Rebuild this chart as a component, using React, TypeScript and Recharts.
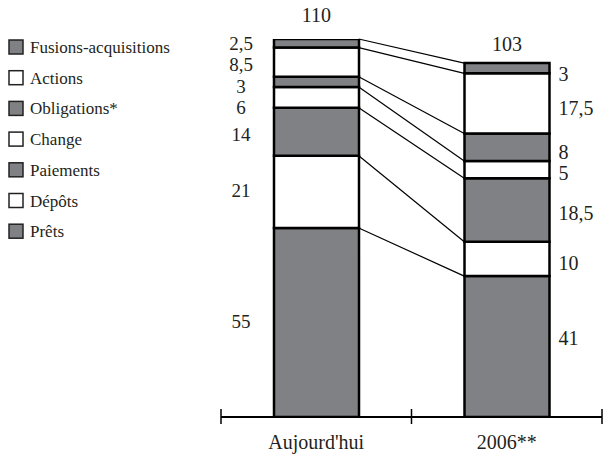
import React from 'react';
import { BarChart, Bar, XAxis, YAxis, ReferenceLine, LabelList } from 'recharts';

// deux colonnes, empilées du bas (Prêts) vers le haut (Fusions-acquisitions)
const CATEGORIES = ["Aujourd'hui", '2006**'];
const POSITIONS = [0.5, 1.5];
const TOTALS = [110, 103];
const TICKS = [0, 0.5, 1, 1.5, 2];

const PRETS = [55, 41];
const DEPOTS = [21, 10];
const PAIEMENTS = [14, 18.5];
const CHANGE = [6, 5];
const OBLIGATIONS = [3, 8];
const ACTIONS = [8.5, 17.5];
const FUSIONS = [2.5, 3];

const GRAY = '#808184';
const WHITE = '#ffffff';
const INK = '#231f20';
const FONT = 'Liberation Serif, DejaVu Serif, serif';

const SERIES = [
  { key: 'prets', name: 'Prêts', values: PRETS, fill: GRAY },
  { key: 'depots', name: 'Dépôts', values: DEPOTS, fill: WHITE },
  { key: 'paiements', name: 'Paiements', values: PAIEMENTS, fill: GRAY },
  { key: 'change', name: 'Change', values: CHANGE, fill: WHITE },
  { key: 'obligations', name: 'Obligations*', values: OBLIGATIONS, fill: GRAY },
  { key: 'actions', name: 'Actions', values: ACTIONS, fill: WHITE },
  { key: 'fusions', name: 'Fusions-acquisitions', values: FUSIONS, fill: GRAY },
];

// petits décalages verticaux des étiquettes (px), [gauche, droite], même ordre que SERIES
const NUDGE = [
  [-2, -9],
  [-2, 4],
  [2, 3],
  [10, 3],
  [4, 5],
  [2, 5],
  [0, 6],
];

const W = 604;
const H = 455;
const MARGIN = { top: 39, right: 2, left: 221, bottom: 8 };
const PLOT_W = W - MARGIN.left - MARGIN.right;
const BAR_SIZE = 85;
// demi-largeur de barre en unités de l'axe x (domaine 0..2)
const HALF = BAR_SIZE / PLOT_W;

const data = CATEGORIES.map((name, i) => {
  const row: any = { name, pos: POSITIONS[i], total: TOTALS[i] };
  SERIES.forEach((s) => (row[s.key] = s.values[i]));
  return row;
});

// cumul en haut de chaque segment, pour les traits de liaison
const tops = SERIES.map((_, k) =>
  POSITIONS.map((_p, i) => SERIES.slice(0, k + 1).reduce((a, s) => a + s.values[i], 0))
);

const fmt = (v: number) => String(v).replace('.', ',');

const makeSegmentLabel = (k: number) => (props: any) => {
  const { x, y, width, height, value, index } = props;
  const side = index === 0 ? 0 : 1;
  const cy = y + height / 2 + 7 + NUDGE[k][side];
  if (side === 0) {
    return (
      <text x={x - 33} y={cy} textAnchor="middle" fontFamily={FONT} fontSize={19} fill={INK}>
        {fmt(value)}
      </text>
    );
  }
  return (
    <text x={x + width + 9} y={cy} textAnchor="start" fontFamily={FONT} fontSize={20} fill={INK}>
      {fmt(value)}
    </text>
  );
};

const TotalLabel = (props: any) => {
  const { x, y, width, value, index } = props;
  return (
    <text
      x={x + width / 2}
      y={y - (index === 0 ? 17 : 12)}
      textAnchor="middle"
      fontFamily={FONT}
      fontSize={20}
      fill={INK}
    >
      {fmt(value)}
    </text>
  );
};

const AxisTick = (props: any) => {
  const { x, y, payload } = props;
  const i = POSITIONS.indexOf(payload.value);
  if (i === -1) {
    return <line x1={x} x2={x} y1={y - 8} y2={y + 7} stroke="#000" strokeWidth={1.5} />;
  }
  return (
    <text x={x} y={y + 32} textAnchor="middle" fontFamily={FONT} fontSize={20} fill={INK}>
      {CATEGORIES[i]}
    </text>
  );
};

const LEGEND_ROW = 30.7;

const LegendBox = () => (
  <svg width={200} height={240} style={{ position: 'absolute', left: 0, top: 0 }}>
    {[...SERIES].reverse().map((s, r) => {
      const cy = 47 + r * LEGEND_ROW;
      return (
        <g key={s.key}>
          <rect x={9} y={cy - 7} width={14} height={14} fill={s.fill} stroke="#222" strokeWidth={1.5} />
          <text x={30} y={cy + 6} fontFamily={FONT} fontSize={17} fill={INK}>
            {s.name}
          </text>
        </g>
      );
    })}
  </svg>
);

export default function App() {
  return (
    <div style={{ position: 'absolute', left: 0, top: 0, width: W, height: H, background: '#fff' }}>
      <LegendBox />
      <BarChart width={W} height={H} data={data} margin={MARGIN}>
        <XAxis
          dataKey="pos"
          type="number"
          domain={[0, 2]}
          ticks={TICKS}
          interval={0}
          tickLine={false}
          tickSize={0}
          tickMargin={0}
          tick={<AxisTick />}
          axisLine={{ stroke: '#000', strokeWidth: 2 }}
          height={30}
        />
        <YAxis hide domain={[0, 110]} allowDataOverflow />
        {SERIES.map((s, k) => (
          <Bar
            key={s.key}
            dataKey={s.key}
            stackId="a"
            barSize={BAR_SIZE}
            fill={s.fill}
            stroke="#000"
            strokeWidth={2.5}
            isAnimationActive={false}
          >
            <LabelList dataKey={s.key} content={makeSegmentLabel(k)} />
            {k === SERIES.length - 1 && <LabelList dataKey="total" content={<TotalLabel />} />}
          </Bar>
        ))}
        {tops.map((t, k) => (
          <ReferenceLine
            key={`link-${k}`}
            segment={[
              { x: POSITIONS[0] + HALF, y: t[0] },
              { x: POSITIONS[1] - HALF, y: t[1] },
            ]}
            stroke="#000"
            strokeWidth={1.2}
          />
        ))}
      </BarChart>
    </div>
  );
}
